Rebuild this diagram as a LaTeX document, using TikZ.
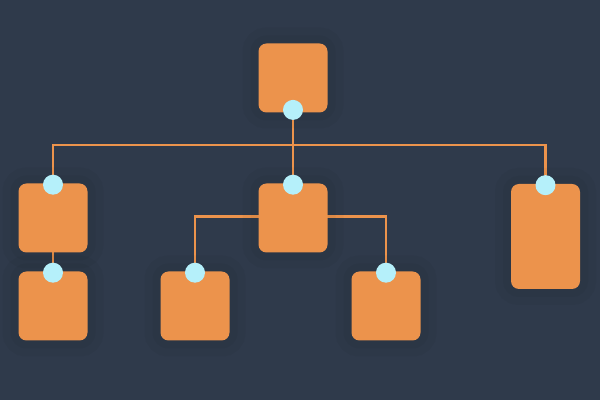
\documentclass[tikz,border=0pt]{standalone}
\usetikzlibrary{backgrounds}
\definecolor{navy}{HTML}{2F3A4B}
\definecolor{boxorange}{HTML}{EC934C}
\definecolor{pincyan}{HTML}{B5F0FA}
\begin{document}
\begin{tikzpicture}[x=0.5pt,y=-0.5pt,
    card/.style={fill=boxorange, rounded corners=4pt, minimum width=34.5pt, minimum height=34.5pt, inner sep=0pt,
        preaction={draw=black, opacity=0.03, line width=16pt},
        preaction={draw=black, opacity=0.03, line width=8pt}},
    pin/.style={fill=pincyan, circle, minimum size=10pt, inner sep=0pt},
    link/.style={boxorange, line width=1.4pt}]

    \node[card] (top) at (293,78) {};
    \node[card] (left) at (53,218) {};
    \node[card] (mid) at (293,218) {};
    \node[card, minimum height=52.5pt] (right) at (545.5,236.5) {};
    \node[card] (leftleaf) at (53,306) {};
    \node[card] (midleft) at (195,306) {};
    \node[card] (midright) at (386,306) {};

    \node[pin] (toppin) at ([yshift=1.5pt]top.south) {};
    \node[pin] (leftpin) at ([yshift=-0.8pt]left.north) {};
    \node[pin] (midpin) at ([yshift=-0.8pt]mid.north) {};
    \node[pin] (rightpin) at ([yshift=-0.8pt]right.north) {};
    \node[pin] (leftleafpin) at ([yshift=-0.8pt]leftleaf.north) {};
    \node[pin] (midleftpin) at ([yshift=-0.8pt]midleft.north) {};
    \node[pin] (midrightpin) at ([yshift=-0.8pt]midright.north) {};

    \coordinate (bus) at (293,145);

    \begin{scope}[on background layer]
    \fill[navy] (0,0) rectangle (600,400);
    \draw[link] (toppin.center) -- (midpin.center);
    \draw[link] (leftpin.center) |- (bus) -| (rightpin.center);%first level
    \draw[link] (leftpin.center) -- (leftleafpin.center);
    \draw[link] (midleftpin.center) |- ([yshift=0.75pt]mid.center) -| (midrightpin.center);
    \end{scope}
\end{tikzpicture}
\end{document}
